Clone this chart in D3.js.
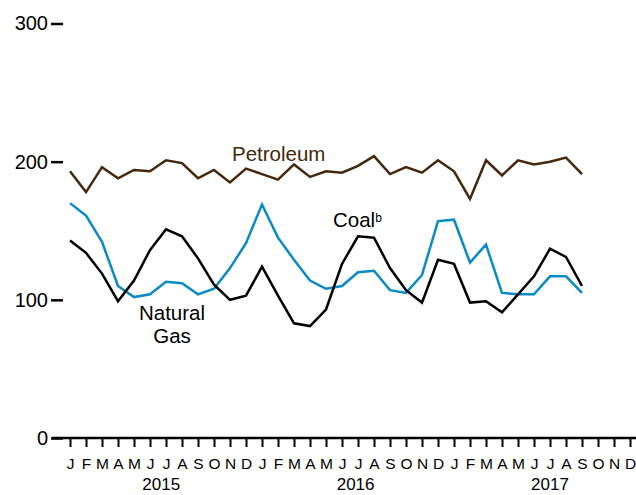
<!DOCTYPE html>
<html lang="en">
<head>
<meta charset="utf-8" />
<title>Fuel consumption</title>
<script src="https://cdn.jsdelivr.net/npm/d3@7"></script>
<style>
    body { margin: 0; background: #fff; }
    svg { font-family: Arial, "Liberation Sans", sans-serif; }
</style>
</head>
<body>
<svg id="canvas" width="636" height="495"></svg>
<script>
var months = ["J","F","M","A","M","J","J","A","S","O","N","D"];
var years = ["2015", "2016", "2017"];

// Jan 2015 - Sep 2017
var petroleum = [193, 178, 196, 188, 194, 193, 201, 199, 188, 194, 185, 195,
                 191, 187, 198, 189, 193, 192, 197, 204, 191, 196,
                 192, 201, 193, 173, 201, 190, 201, 198, 200, 203, 191];
var naturalGas = [170, 161, 142, 110, 102, 104, 113, 112, 104, 108, 123, 141,
                  169, 145, 129, 114, 108, 110, 120, 121, 107, 105,
                  118, 157, 158, 127, 140, 105, 104, 104, 117, 117, 105];
var coal = [143, 134, 119, 99, 114, 136, 151, 146, 130, 111, 100, 103,
            124, 103, 83, 81, 93, 126, 146, 145, 123, 107,
            98, 129, 126, 98, 99, 91, 104, 117, 137, 131, 110];

var svg = d3.select("#canvas");
var axisY = 438;

var x = d3.scaleLinear().domain([0, 35]).range([70, 630]);
var y = d3.scaleLinear().domain([0, 300]).range([axisY, 23.5]);

// y axis ticks
var gy = svg.append("g")
    .attr("transform", "translate(63,0)")
    .call(d3.axisLeft(y).tickValues([0, 100, 200, 300]).tickSize(12).tickPadding(3));
gy.select(".domain").remove();
gy.selectAll("line").attr("stroke", "#000").attr("stroke-width", 2.5);
gy.selectAll("text").attr("font-size", 20).attr("fill", "#000");

// x axis
var gx = svg.append("g")
    .attr("transform", "translate(0," + axisY + ")")
    .call(d3.axisBottom(x).tickValues(d3.range(36)).tickSize(9).tickPadding(10.5)
        .tickFormat(function (d) { return months[d % 12]; }));
gx.select(".domain").remove();
gx.selectAll("line").attr("stroke", "#000").attr("stroke-width", 2);
gx.selectAll("text").attr("font-size", 15.5).attr("fill", "#000");

svg.append("line")
    .attr("x1", 52).attr("x2", 636)
    .attr("y1", axisY).attr("y2", axisY)
    .attr("stroke", "#000").attr("stroke-width", 2.5);

svg.selectAll(".year")
    .data(years)
  .enter().append("text")
    .attr("class", "year")
    .attr("x", function (d, i) { return x(i * 12 + 5.7 + i * 0.15); })
    .attr("y", 490)
    .attr("text-anchor", "middle")
    .attr("font-size", 17)
    .text(function (d) { return d; });

// series
var line = d3.line()
    .x(function (d, i) { return x(i); })
    .y(function (d) { return y(d); });

var series = [
    { values: petroleum, color: "#45280b" },
    { values: naturalGas, color: "#0a8ac6" },
    { values: coal, color: "#000000" }
];

svg.selectAll(".series")
    .data(series)
  .enter().append("path")
    .attr("class", "series")
    .attr("d", function (d) { return line(d.values); })
    .attr("fill", "none")
    .attr("stroke", function (d) { return d.color; })
    .attr("stroke-width", 2.5)
    .attr("stroke-linejoin", "miter");

// labels
svg.append("text")
    .attr("x", 232).attr("y", 161)
    .attr("font-size", 20.5)
    .attr("fill", "#45280b")
    .text("Petroleum");

var ng = svg.append("text")
    .attr("text-anchor", "middle")
    .attr("font-size", 20.5)
    .attr("fill", "#000");
ng.append("tspan").attr("x", 172).attr("y", 320).text("Natural");
ng.append("tspan").attr("x", 172).attr("y", 343).text("Gas");

var coalLabel = svg.append("text")
    .attr("x", 333).attr("y", 227)
    .attr("font-size", 20.5)
    .attr("fill", "#000");
coalLabel.append("tspan").text("Coal");
coalLabel.append("tspan").attr("font-size", 12).attr("dy", -5).text("b");
</script>
</body>
</html>
